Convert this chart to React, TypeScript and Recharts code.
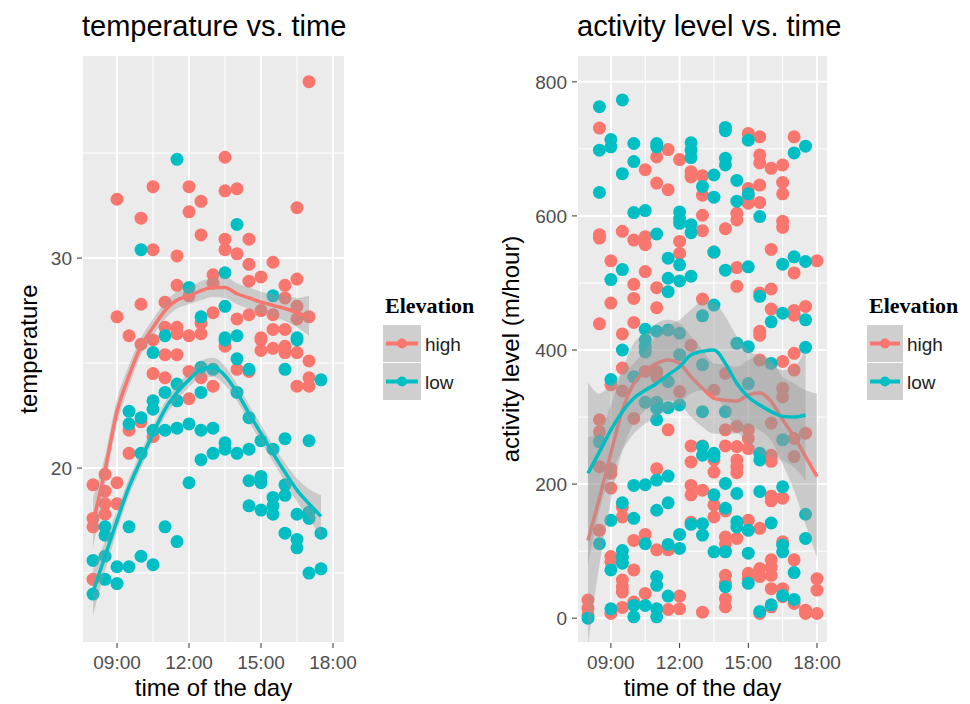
import React from "react";
import {
  ComposedChart,
  Scatter,
  Line,
  Area,
  XAxis,
  YAxis,
  CartesianGrid,
  ReferenceLine,
} from "recharts";

const RED = "#F8766D";
const TEAL = "#00BFC4";
const FONT = "'Liberation Sans', Arial, Helvetica, sans-serif";

// ---- temperature panel -------------------------------------------------
const tempHigh: [number, number][] = [
  [17.0, 38.4], [13.5, 34.8], [10.5, 33.4], [12.0, 33.4], [13.5, 33.2], [14.0, 33.3],
  [9.0, 32.8], [12.5, 32.7], [16.5, 32.4], [10.0, 31.9], [12.0, 32.2], [12.5, 31.1],
  [13.5, 30.9], [14.5, 30.9], [10.5, 30.4], [13.5, 30.4], [14.0, 30.2], [11.5, 30.1],
  [14.5, 29.7], [15.5, 29.8], [13.0, 29.2], [15.0, 29.1], [14.5, 28.9], [16.5, 29.0],
  [16.0, 28.7], [11.5, 28.7], [13.0, 28.8], [16.0, 28.1], [12.0, 28.2], [10.0, 27.8],
  [11.0, 27.9], [16.5, 27.7], [9.0, 27.2], [13.0, 27.4], [14.0, 27.1], [14.5, 27.3],
  [15.0, 27.5], [15.5, 27.3], [16.5, 27.1], [17.0, 27.2], [12.5, 26.9], [11.5, 26.7],
  [11.0, 26.7], [15.5, 26.6], [16.0, 26.6], [9.5, 26.3], [11.5, 26.4], [12.0, 26.3],
  [12.5, 26.4], [15.0, 26.2], [10.0, 25.9], [10.5, 26.1], [11.0, 25.4], [11.5, 25.4],
  [13.5, 25.8], [15.0, 26.1], [15.0, 25.6], [15.5, 25.7], [16.0, 25.5], [16.0, 25.8],
  [16.5, 25.5], [17.0, 25.1], [14.0, 24.7], [14.5, 24.6], [10.5, 24.5], [11.0, 24.3],
  [12.0, 24.6], [12.5, 24.3], [17.0, 24.3], [16.5, 23.9], [17.0, 23.9], [13.0, 23.9],
  [12.0, 23.3], [9.5, 21.8], [10.0, 22.2], [10.5, 21.5], [9.5, 20.7], [9.0, 19.3],
  [8.0, 19.2], [8.5, 19.7], [8.5, 18.9], [8.5, 18.3], [8.5, 17.8], [9.0, 18.3],
  [8.0, 17.6], [8.0, 17.2], [8.0, 14.7],
];

const tempLow: [number, number][] = [
  [11.5, 34.7], [14.0, 31.6], [10.0, 30.4], [13.5, 29.3], [12.0, 28.6], [15.5, 28.2],
  [13.5, 27.7], [12.5, 27.2], [11.0, 26.3], [13.5, 26.2], [14.0, 26.3], [16.5, 26.2],
  [10.5, 25.5], [13.5, 26.1], [16.5, 26.1], [14.0, 25.2], [14.5, 24.7], [16.0, 24.7],
  [17.5, 24.2], [12.5, 24.8], [13.0, 24.7], [12.5, 23.6], [11.5, 24.0], [11.0, 23.6],
  [14.0, 23.6], [10.5, 23.2], [10.5, 22.8], [11.5, 23.2], [9.5, 22.7], [9.5, 22.1],
  [10.0, 22.4], [10.5, 21.8], [11.0, 21.8], [11.5, 21.9], [12.0, 22.1], [12.5, 21.8],
  [13.0, 21.9], [14.5, 22.4], [13.5, 21.2], [13.5, 20.9], [10.0, 20.7], [13.0, 20.7],
  [12.5, 20.4], [14.0, 20.7], [14.5, 20.9], [15.0, 21.3], [15.5, 20.9], [16.0, 21.4],
  [17.0, 21.3], [12.0, 19.3], [14.5, 19.4], [15.0, 19.6], [15.0, 19.3], [16.0, 19.2],
  [16.0, 18.7], [15.5, 18.6], [14.5, 18.2], [15.0, 18.0], [15.5, 18.2], [15.5, 17.8],
  [8.5, 17.2], [8.5, 16.8], [9.5, 17.2], [11.0, 17.2], [11.5, 16.5], [16.5, 17.8],
  [17.0, 17.9], [17.0, 17.6], [17.5, 16.9], [16.0, 16.9], [16.5, 16.6], [16.5, 16.2],
  [17.0, 15.0], [17.5, 15.2], [8.0, 15.6], [8.5, 15.8], [9.0, 15.3], [9.5, 15.3],
  [10.0, 15.8], [10.5, 15.4], [8.5, 14.7], [9.0, 14.5], [8.0, 14.0],
];

const tempHours = [8, 8.5, 9, 9.5, 10, 10.5, 11, 11.5, 12, 12.5, 13, 13.5, 14, 14.5, 15, 15.5, 16, 16.5, 17, 17.5];
const tempHighFit = [17.4, 19.9, 22.7, 24.4, 25.8, 26.7, 27.5, 28.0, 28.2, 28.45, 28.6, 28.6, 28.3, 28.1, 27.9, 27.75, 27.6, 27.4, 27.2, null];
const tempHighLo = [16.2, 19.2, 22.1, 23.9, 25.4, 26.3, 27.1, 27.6, 27.8, 28.0, 28.15, 28.1, 27.8, 27.6, 27.4, 27.2, 27.0, 26.7, 26.3, null];
const tempHighHi = [18.6, 20.6, 23.3, 24.9, 26.2, 27.1, 27.9, 28.4, 28.6, 28.9, 29.05, 29.1, 28.8, 28.6, 28.4, 28.3, 28.2, 28.1, 28.2, null];
const tempLowFit = [14.1, 15.8, 17.5, 19.1, 20.4, 21.65, 22.8, 23.6, 24.2, 24.7, 24.8, 24.4, 23.6, 22.6, 21.65, 20.7, 19.8, 18.95, 18.3, 17.7];
const tempLowLo = [13.0, 15.1, 17.0, 18.7, 20.0, 21.3, 22.45, 23.25, 23.85, 24.3, 24.35, 23.95, 23.2, 22.2, 21.25, 20.3, 19.35, 18.4, 17.6, 16.7];
const tempLowHi = [15.2, 16.5, 18.0, 19.5, 20.8, 22.0, 23.15, 23.95, 24.55, 25.1, 25.25, 24.85, 24.0, 23.0, 22.05, 21.1, 20.25, 19.5, 19.0, 18.7];

// ---- activity panel ----------------------------------------------------
const actHigh: [number, number][] = [
  [8.5, 731], [10.5, 669], [11.0, 688], [11.5, 699], [12.0, 684], [12.5, 666], [12.5, 658],
  [11.0, 649], [11.5, 639], [13.0, 660], [13.0, 631], [13.0, 601], [13.0, 578], [14.0, 581],
  [14.5, 604], [14.5, 594], [15.0, 723], [15.0, 641], [15.0, 629], [15.0, 619], [15.5, 718],
  [15.5, 691], [15.5, 679], [15.5, 646], [15.5, 620], [16.0, 671], [16.5, 676], [16.5, 650],
  [16.5, 633], [16.5, 592], [16.5, 583], [17.0, 718], [8.5, 572], [8.5, 567], [9.5, 577],
  [10.0, 564], [10.5, 569], [10.5, 557], [12.0, 562], [12.0, 544], [13.5, 546], [16.0, 550],
  [9.0, 533], [10.5, 517], [14.5, 523], [14.5, 495], [18.0, 533], [17.0, 515], [10.0, 498],
  [11.0, 493], [10.0, 477], [9.0, 470], [11.0, 463], [13.0, 476], [15.5, 485], [16.0, 491],
  [16.0, 461], [17.0, 459], [17.0, 452], [17.5, 465], [8.5, 439], [9.5, 424], [10.0, 441],
  [15.5, 428], [15.5, 422], [9.5, 373], [9.0, 348], [9.5, 339], [10.5, 368], [11.0, 368],
  [11.0, 360], [12.5, 407], [12.0, 338], [13.5, 340], [14.0, 365], [15.5, 385], [16.5, 383],
  [17.0, 395], [17.0, 370], [16.5, 343], [16.5, 330], [16.0, 291], [17.0, 268], [17.0, 241],
  [17.5, 276], [15.0, 281], [15.0, 268], [15.0, 253], [14.5, 286], [14.5, 256], [14.0, 281],
  [8.5, 296], [8.5, 278], [8.5, 226], [9.0, 223], [9.0, 216], [9.0, 194], [10.0, 298],
  [11.5, 281], [12.5, 257], [13.0, 257], [13.5, 236], [13.5, 218], [12.5, 233], [14.0, 257],
  [14.5, 236], [14.5, 226], [14.5, 217], [16.0, 243], [16.0, 234], [16.0, 182], [16.0, 175],
  [16.5, 179], [12.5, 198], [12.5, 184], [13.0, 191], [13.5, 169], [13.5, 151], [14.0, 160],
  [9.5, 166], [9.5, 151], [10.0, 116], [10.5, 125], [11.0, 102], [11.5, 102], [14.0, 121],
  [14.0, 111], [14.0, 101], [14.5, 119], [15.0, 146], [15.5, 134], [16.5, 114], [17.0, 87],
  [9.0, 92], [9.0, 84], [10.0, 72], [9.5, 57], [9.5, 47], [9.5, 39], [10.5, 37], [12.0, 33],
  [14.0, 64], [14.0, 52], [14.0, 29], [14.0, 17], [15.0, 67], [15.0, 59], [15.5, 74],
  [15.5, 62], [16.0, 87], [16.0, 76], [16.0, 64], [16.0, 44], [16.5, 44], [16.5, 32],
  [16.0, 17], [15.5, 7], [17.0, 22], [17.5, 12], [17.5, 7], [18.0, 59], [18.0, 42],
  [18.0, 7], [8.0, 27], [8.0, 15], [8.0, 5], [9.0, 7], [9.5, 16], [10.0, 24], [11.5, 13],
  [12.0, 14], [13.0, 9], [8.5, 131], [11.0, 223], [12.5, 143],
];

const actLow: [number, number][] = [
  [8.5, 763], [9.5, 773], [9.0, 714], [9.0, 703], [8.5, 698], [10.0, 708], [10.0, 681],
  [9.5, 663], [11.0, 708], [11.0, 703], [12.5, 709], [12.5, 698], [12.5, 687], [10.0, 605],
  [10.5, 608], [8.5, 635], [12.0, 606], [12.0, 596], [12.0, 589], [12.5, 587], [12.5, 575],
  [13.0, 644], [13.5, 661], [13.5, 628], [14.0, 732], [14.0, 727], [14.0, 686], [14.0, 676],
  [14.5, 653], [14.5, 622], [15.0, 713], [15.0, 633], [15.5, 599], [17.0, 694], [17.5, 704],
  [11.0, 573], [13.5, 546], [9.5, 520], [9.0, 505], [11.5, 537], [12.0, 527], [11.5, 507],
  [12.0, 503], [12.5, 510], [14.0, 519], [15.0, 524], [16.5, 528], [17.0, 539], [17.5, 532],
  [11.5, 487], [13.5, 467], [13.0, 451], [15.5, 480], [16.0, 442], [16.5, 455], [17.5, 445],
  [10.5, 431], [11.0, 428], [11.5, 430], [12.0, 425], [10.5, 415], [10.5, 405], [10.5, 397],
  [9.5, 400], [9.0, 356], [10.0, 360], [12.0, 393], [11.5, 353], [13.0, 378], [14.5, 410],
  [15.0, 405], [16.0, 380], [17.5, 404], [16.5, 266], [15.0, 350], [14.0, 308], [13.0, 308],
  [8.5, 263], [10.5, 322], [11.0, 322], [11.0, 313], [11.0, 296], [11.5, 314], [12.0, 318],
  [13.0, 256], [13.0, 243], [13.5, 241], [14.5, 186], [14.0, 201], [15.5, 246], [15.5, 236],
  [15.5, 189], [16.5, 196], [17.5, 155], [13.5, 184], [14.0, 164], [12.5, 140], [13.0, 141],
  [13.0, 124], [12.0, 125], [9.0, 146], [9.5, 172], [10.0, 149], [11.0, 161], [11.5, 172],
  [10.5, 111], [11.5, 110], [12.0, 104], [13.5, 99], [14.0, 99], [14.5, 144], [14.5, 136],
  [15.0, 131], [16.0, 142], [16.5, 109], [16.5, 99], [15.0, 97], [17.5, 119], [17.0, 68],
  [9.0, 72], [9.5, 101], [9.5, 91], [9.5, 82], [11.0, 62], [11.0, 49], [11.5, 33],
  [14.0, 47], [15.0, 52], [16.5, 34], [16.0, 20], [15.5, 10], [17.0, 28], [8.0, 0],
  [9.0, 14], [10.0, 19], [10.0, 2], [10.5, 19], [11.0, 14], [11.0, 2], [10.0, 198],
  [10.5, 199], [11.0, 206], [11.5, 212], [8.5, 111], [13.5, 246],
];

const actHours = [8, 8.5, 9, 9.5, 10, 10.5, 11, 11.5, 12, 12.5, 13, 13.5, 14, 14.5, 15, 15.5, 16, 16.5, 17, 17.5, 18];
const actHighFit = [116, 179, 246, 310, 350, 368, 380, 385, 380, 360, 343, 328, 325, 324, 333, 336, 323, 296, 271, 241, 211];
const actHighLo = [-40, 80, 175, 250, 290, 310, 320, 325, 320, 300, 285, 275, 275, 275, 285, 280, 265, 230, 190, 140, 90];
const actHighHi = [270, 280, 318, 370, 410, 425, 440, 445, 440, 420, 400, 380, 378, 375, 385, 392, 385, 360, 350, 340, 335];
const actLowFit = [216, 248, 281, 308, 328, 340, 350, 363, 375, 393, 398, 400, 380, 350, 330, 318, 308, 301, 300, 303, null];
const actLowLo = [80, 160, 215, 250, 275, 290, 300, 310, 320, 335, 340, 335, 310, 280, 260, 245, 240, 235, 225, 205, null];
const actLowHi = [352, 335, 348, 365, 380, 400, 420, 435, 445, 460, 472, 470, 450, 420, 400, 390, 380, 370, 375, 400, null];

const hourTicks = [9, 12, 15, 18];
const minorHours = [10.5, 13.5, 16.5];

function buildFit(hours: number[], hf: any[], hl: any[], hh: any[], lf: any[], ll: any[], lh: any[]) {
  return hours.map((t, i) => ({
    t,
    high: hf[i],
    highBand: hl[i] == null ? null : [hl[i], hh[i]],
    low: lf[i],
    lowBand: ll[i] == null ? null : [ll[i], lh[i]],
  }));
}

const toPts = (arr: [number, number][]) => arr.map(([t, v]) => ({ t, v }));

const dot = (color: string) => (p: any) =>
  <circle cx={p.cx} cy={p.cy} r={6.5} fill={color} />;

const fmtHour = (h: number) => `${String(h).padStart(2, "0")}:00`;

type PanelProps = {
  width: number;
  yWidth: number;
  rightMargin: number;
  xDomain: [number, number];
  yDomain: [number, number];
  yTicks: number[];
  yMinor: number[];
  high: [number, number][];
  low: [number, number][];
  fit: any[];
};

function Panel(p: PanelProps) {
  const tickStyle = { fill: "#4D4D4D", fontSize: 19, fontFamily: FONT };
  return (
    <ComposedChart
      width={p.width}
      height={704}
      data={p.fit}
      margin={{ top: 55, right: p.rightMargin, bottom: 0, left: 0 }}
    >
      <CartesianGrid fill="#EBEBEB" stroke="#FFFFFF" strokeWidth={2} />
      {minorHours.map((h) => (
        <ReferenceLine key={"x" + h} x={h} stroke="#FFFFFF" strokeWidth={1} zIndex={-90} />
      ))}
      {p.yMinor.map((v) => (
        <ReferenceLine key={"y" + v} y={v} stroke="#FFFFFF" strokeWidth={1} zIndex={-90} />
      ))}
      <XAxis
        dataKey="t"
        type="number"
        domain={p.xDomain}
        allowDataOverflow
        ticks={hourTicks}
        tickFormatter={fmtHour}
        axisLine={false}
        tickLine={{ stroke: "#333333" }}
        tickSize={5}
        tickMargin={8}
        tick={tickStyle}
        height={61}
      />
      <YAxis
        type="number"
        domain={p.yDomain}
        allowDataOverflow
        ticks={p.yTicks}
        axisLine={false}
        tickLine={{ stroke: "#333333" }}
        tickSize={5}
        tickMargin={5}
        tick={tickStyle}
        width={p.yWidth}
      />
      <Scatter data={toPts(p.high)} dataKey="v" shape={dot(RED)} isAnimationActive={false} zIndex={50} />
      <Scatter data={toPts(p.low)} dataKey="v" shape={dot(TEAL)} isAnimationActive={false} zIndex={51} />
      <Area
        dataKey="highBand"
        type="monotone"
        fill="#999999"
        fillOpacity={0.4}
        stroke="none"
        isAnimationActive={false}
        zIndex={100}
      />
      <Line
        dataKey="high"
        type="monotone"
        stroke={RED}
        strokeWidth={3.5}
        dot={false}
        activeDot={false}
        isAnimationActive={false}
        zIndex={110}
      />
      <Area
        dataKey="lowBand"
        type="monotone"
        fill="#999999"
        fillOpacity={0.4}
        stroke="none"
        isAnimationActive={false}
        zIndex={120}
      />
      <Line
        dataKey="low"
        type="monotone"
        stroke={TEAL}
        strokeWidth={3.5}
        dot={false}
        activeDot={false}
        isAnimationActive={false}
        zIndex={130}
      />
    </ComposedChart>
  );
}

function LegendBox({ x, w }: { x: number; w: number }) {
  const keys = [
    { label: "high", color: RED, y: 325 },
    { label: "low", color: TEAL, y: 363 },
  ];
  return (
    <g>
      <text x={x + 2} y={313} fontFamily="'Liberation Serif', 'Times New Roman', serif" fontWeight="bold" fontSize={22} fill="#000">
        Elevation
      </text>
      {keys.map((k) => (
        <g key={k.label}>
          <rect x={x} y={k.y} width={w} height={37} fill="#CFCFCF" />
          <line x1={x + 3} x2={x + w - 3} y1={k.y + 18.5} y2={k.y + 18.5} stroke={k.color} strokeWidth={4} />
          <circle cx={x + w / 2} cy={k.y + 18.5} r={5} fill={k.color} />
          <text x={x + w + 4} y={k.y + 26} fontFamily={FONT} fontSize={19} fill="#222">
            {k.label}
          </text>
        </g>
      ))}
    </g>
  );
}

export default function App() {
  const tempFit = buildFit(tempHours, tempHighFit, tempHighLo, tempHighHi, tempLowFit, tempLowLo, tempLowHi);
  const actFit = buildFit(actHours, actHighFit, actHighLo, actHighHi, actLowFit, actLowLo, actLowHi);
  return (
    <div style={{ position: "absolute", left: 0, top: 0, width: 970, height: 704, background: "#FFFFFF", overflow: "hidden" }}>
      <div style={{ position: "absolute", left: 0, top: 0 }}>
        <Panel
          width={375}
          yWidth={82}
          rightMargin={30}
          xDomain={[7.54, 18.5]}
          yDomain={[11.67, 39.67]}
          yTicks={[20, 30]}
          yMinor={[15, 25, 35]}
          high={tempHigh}
          low={tempLow}
          fit={tempFit}
        />
      </div>
      <div style={{ position: "absolute", left: 490, top: 0 }}>
        <Panel
          width={370}
          yWidth={87}
          rightMargin={32}
          xDomain={[7.52, 18.48]}
          yDomain={[-37, 840]}
          yTicks={[0, 200, 400, 600, 800]}
          yMinor={[100, 300, 500, 700]}
          high={actHigh}
          low={actLow}
          fit={actFit}
        />
      </div>
      <svg width={970} height={704} style={{ position: "absolute", left: 0, top: 0, pointerEvents: "none" }}>
        <text x={82} y={36} fontFamily={FONT} fontSize={29} fill="#000">temperature vs. time</text>
        <text x={577} y={36} fontFamily={FONT} fontSize={29} fill="#000">activity level vs. time</text>
        <text x={213.5} y={696} textAnchor="middle" fontFamily={FONT} fontSize={24} fill="#000">time of the day</text>
        <text x={702.5} y={696} textAnchor="middle" fontFamily={FONT} fontSize={24} fill="#000">time of the day</text>
        <text transform="translate(37,349) rotate(-90)" textAnchor="middle" fontFamily={FONT} fontSize={24} fill="#000">temperature</text>
        <text transform="translate(519,349) rotate(-90)" textAnchor="middle" fontFamily={FONT} fontSize={24} fill="#000">activity level (m/hour)</text>
        <LegendBox x={383} w={38} />
        <LegendBox x={867} w={36} />
      </svg>
    </div>
  );
}
